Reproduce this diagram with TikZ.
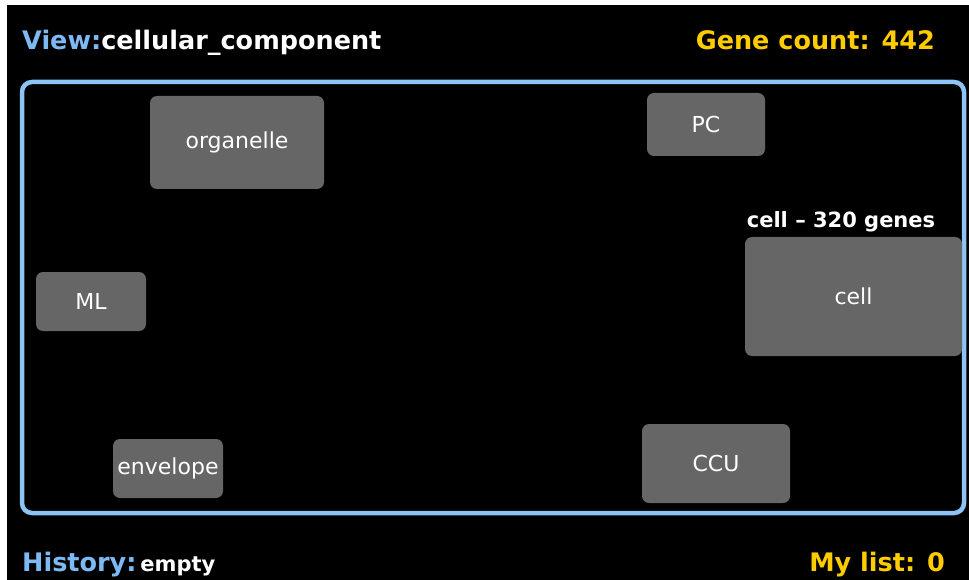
\documentclass[tikz,border=0pt]{standalone}
\usepackage{fontspec}
\setmainfont{DejaVu Sans}
\definecolor{viewblue}{HTML}{7DB9F2}
\definecolor{frameblue}{HTML}{8DC3F5}
\definecolor{gold}{HTML}{FFCC00}
\definecolor{boxgray}{HTML}{666666}
\begin{document}
\begin{tikzpicture}[x=1pt,y=-1pt,
  box/.style={fill=boxgray, rounded corners=7pt, inner sep=0pt, text=white,
    font=\fontsize{22}{26}\selectfont},
  hdr/.style={font=\bfseries\fontsize{25.5}{30}\selectfont, inner sep=0pt, anchor=base west, text=white},
  hdrr/.style={font=\bfseries\fontsize{25.5}{30}\selectfont, inner sep=0pt, anchor=base east, text=gold}]
\useasboundingbox (0,0) rectangle (969,580);
\fill[white] (0,0) rectangle (969,580);
\fill[black] (7,5) rectangle (969,580);
\node[draw=frameblue, line width=4.5pt, rounded corners=10pt, minimum width=942pt,
  minimum height=431pt, inner sep=0pt] (frame) at (493,297.5) {};
\node[hdr] (view) at (22,50) {\textcolor{viewblue}{View:}cellular\_component};
\node[hdrr] (count) at (935,50) {Gene count: 442};
\node[hdr] (history) at (22,571) {\textcolor{viewblue}{History:}\hspace{0.15em}{\fontsize{21}{24}\selectfont empty}};
\node[hdrr] (mylist) at (945,571) {My list: 0};
\node[box, minimum width=174pt, minimum height=93pt] (organelle) at (237,142.5) {organelle};
\node[box, minimum width=118pt, minimum height=63pt] (pc) at (706,124.5) {PC};
\node[box, minimum width=217pt, minimum height=119pt] (cell) at (853.5,296.5) {cell};
\node[box, minimum width=110pt, minimum height=59pt] (ml) at (91,301.5) {ML};
\node[box, minimum width=110pt, minimum height=59pt] (envelope) at (168,468.5) {envelope};
\node[box, minimum width=148pt, minimum height=79pt] (ccu) at (716,463.5) {CCU};
\node[font=\bfseries\fontsize{21}{25}\selectfont, text=white, inner sep=0pt, anchor=base]
  (celllabel) at (841,227) {cell -- 320 genes};
\end{tikzpicture}
\end{document}
